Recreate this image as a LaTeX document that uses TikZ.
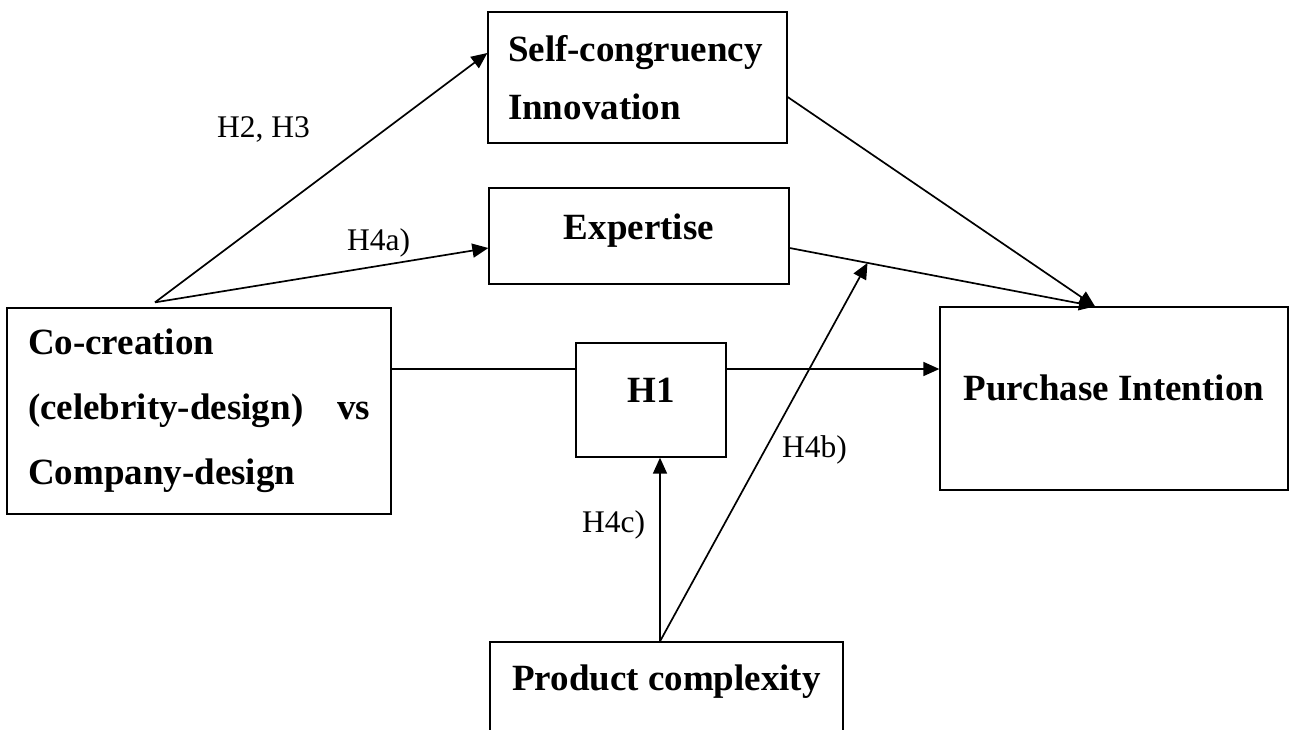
\documentclass[tikz,border=0pt]{standalone}
\usepackage{fontspec}
\setmainfont{Liberation Serif}
\usetikzlibrary{arrows.meta,calc}

\begin{document}
\begin{tikzpicture}[x=1pt,y=1pt,
    box/.style={draw,line width=1.3pt,inner sep=0pt,font=\bfseries\fontsize{37pt}{44pt}\selectfont},
    link/.style={line width=1.7pt},
    hyp/.style={link,-{Triangle[length=16pt,width=14pt]}},
    hlabel/.style={inner sep=0pt,anchor=base west,font=\fontsize{31.5pt}{36pt}\selectfont}]
  \useasboundingbox (0,0) rectangle (1290,-729);

  % constructs
  \node[box,minimum width=299pt,minimum height=131pt,text width=259pt,align=left,
        font=\bfseries\fontsize{37pt}{58pt}\selectfont] (self) at (637.5,-77.5) {Self-congruency\\Innovation};
  \node[box,minimum width=300pt,minimum height=96pt,text depth=19.5pt] (exp) at (639,-236) {Expertise};
  \node[box,minimum width=384pt,minimum height=206pt,text width=342pt,align=left,
        font=\bfseries\fontsize{37pt}{65pt}\selectfont] (cc) at (199,-411)
        {Co-creation\\(celebrity-design)\hfill vs\\Company-design};
  \node[box,minimum width=150pt,minimum height=114pt,text depth=19pt] (h1) at (651,-400) {H1};
  \node[box,minimum width=348pt,minimum height=183pt,text depth=22.5pt] (pi) at (1114,-398.5) {Purchase Intention};
  \node[box,minimum width=353pt,minimum height=120pt,text height=25.5pt,text depth=49.5pt] (pc) at (666.5,-702) {Product complexity};

  % helper points
  \coordinate (fork) at ([xshift=-44pt,yshift=5pt]cc.north);
  \coordinate (mid) at (0,-369);
  \coordinate (pcfork) at ([xshift=-6.5pt]pc.north);
  \coordinate (expout) at ([yshift=-12pt]exp.east);
  \coordinate (piin) at ([xshift=-19pt]pi.north);

  % paths
  \draw[hyp] (fork) -- ([yshift=24.5pt]self.west);
  \draw[hyp] (fork) -- ([yshift=-12pt]exp.west);
  \draw[link] (cc.east |- mid) -- (h1.west |- mid);
  \draw[hyp] (h1.east |- mid) -- (pi.west |- mid);
  \draw[hyp] ([yshift=-19.5pt]self.east) -- (piin);
  \draw[hyp] (expout) -- (piin);
  \draw[hyp] (pcfork) -- (h1.south -| pcfork);
  \draw[hyp] (pcfork) -- ($(expout)!0.255!(piin)$);

  % hypotheses
  \node[hlabel] (lh23) at (217,-137) {H2, H3};
  \node[hlabel] (lh4a) at (347,-250) {H4a)};
  \node[hlabel] (lh4b) at (782,-457) {H4b)};
  \node[hlabel] (lh4c) at (582,-532) {H4c)};
\end{tikzpicture}
\end{document}
